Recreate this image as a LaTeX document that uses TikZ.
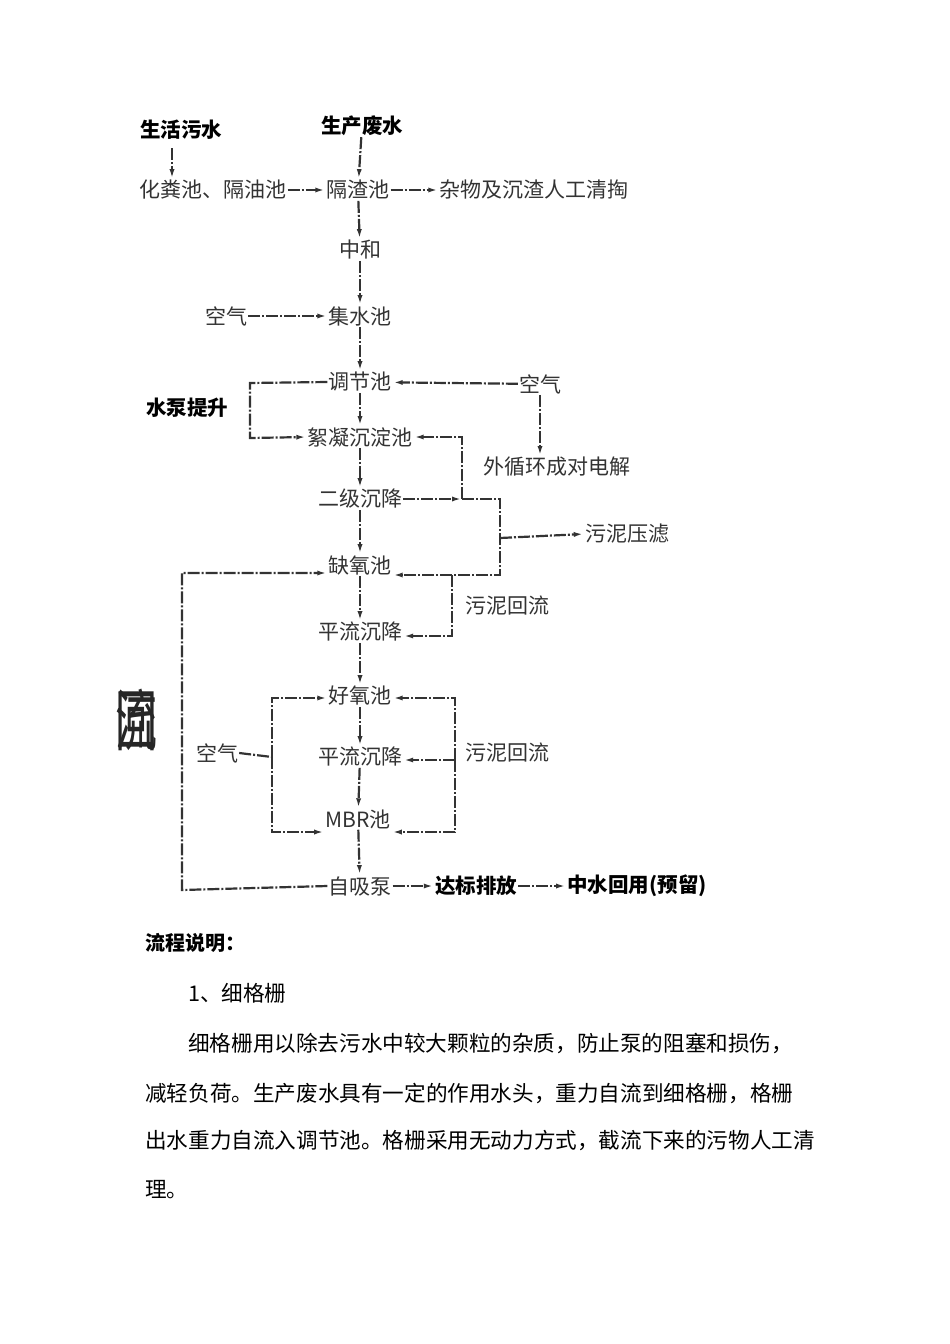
\documentclass[tikz,border=0pt]{standalone}
\usepackage{fontspec}
\setmainfont{Noto Sans CJK SC}
\usetikzlibrary{arrows.meta}
\begin{document}
\begin{tikzpicture}[x=1pt,y=-1pt,
  lbl/.style={font=\fontsize{21}{24}\selectfont,text=black!80,inner sep=1pt},
  blbl/.style={font=\fontsize{20.5}{24}\selectfont\bfseries,inner sep=1pt},
  ln/.style={line width=2.2pt,black!80,dash pattern=on 12pt off 2pt on 2pt off 2pt},
  ar/.style={ln,-{Latex[length=10pt,width=5pt]}},
  para/.style={font=\fontsize{21.6}{24}\selectfont,anchor=west,inner sep=0pt}]
\useasboundingbox (0,0) rectangle (950,1344);
\node[blbl] (shw) at (181,130) {生活污水};
\node[blbl] (scfs) at (362,126) {生产废水};
\node[lbl] (hfc) at (213,190) {化粪池、隔油池};
\node[lbl] (gzc) at (358,190) {隔渣池};
\node[lbl] (zw) at (534,190) {杂物及沉渣人工清掏};
\node[lbl] (zh) at (360,250) {中和};
\node[lbl] (kq1) at (226,316) {空气};
\node[lbl] (jsc) at (360,316) {集水池};
\node[lbl] (tjc) at (360,382) {调节池};
\node[lbl] (kq2) at (540,384) {空气};
\node[blbl] (sb) at (187,408) {水泵提升};
\node[lbl] (xn) at (360,437) {絮凝沉淀池};
\node[lbl] (wxh) at (557,467) {外循环成对电解};
\node[lbl] (ej) at (360,499) {二级沉降};
\node[lbl] (wnyl) at (627,534) {污泥压滤};
\node[lbl] (qy) at (360,565) {缺氧池};
\node[lbl] (hl1) at (507,606) {污泥回流};
\node[lbl] (pl1) at (360,632) {平流沉降};
\node[lbl] (hy) at (360,696) {好氧池};
\node[lbl] (kq3) at (217,753) {空气};
\node[lbl] (pl2) at (360,757) {平流沉降};
\node[lbl] (hl2) at (507,753) {污泥回流};
\node[lbl] (mbr) at (358,819) {MBR池};
\node[lbl] (zxb) at (360,886) {自吸泵};
\node[blbl] (db) at (476,886) {达标排放};
\node[blbl] (zs) at (637,886) {中水回用(预留)};
\node[font=\fontsize{42}{42}\selectfont,text=black!85,yscale=1.6,inner sep=0pt] (g) at (136,720) {回\kern-42pt流};
% arrows main chain
\draw[ar] (172,148) -- (hfc.north -| 172,0);
\draw[ar] (scfs) -- (gzc);
\draw[ar] (hfc) -- (gzc);
\draw[ar] (gzc) -- (zw);
\draw[ar] (gzc) -- (zh);
\draw[ar] (zh) -- (jsc);
\draw[ar] (kq1) -- (jsc);
\draw[ar] (jsc) -- (tjc);
\draw[ar] (kq2) -- (tjc);
\draw[ar] (kq2) -- (wxh.north -| kq2);
\draw[ar] (tjc) -- (xn);
\draw[ar] (xn) -- (ej);
\draw[ar] (ej) -- (qy);
\draw[ar] (qy) -- (pl1);
\draw[ar] (pl1) -- (hy);
\draw[ar] (hy) -- (pl2);
\draw[ar] (pl2) -- (mbr);
\draw[ar] (mbr) -- (zxb);
\draw[ar] (zxb) -- (db);
\draw[ar] (db) -- (zs);
% pump loop
\draw[ar] (tjc.west) -- (250,383) -- (250,438) -- (xn.west);
% secondary settling connections
\coordinate (j1) at (462,499);
\coordinate (j2) at (500,538);
\draw[ar] (ej.east) -- (j1);
\draw[ar] (j1) -- (462,437) -- (xn.east);
\draw[ar] (j1) -- (500,499) -- (500,575) -- (qy.east |- 0,575);
\draw[ar] (j2) -- (wnyl.west);
\draw[ar] (452,575) -- (452,636) -- (pl1.east |- 0,636);
% return loop
\draw[ar] (zxb.west) -- (182,890) -- (182,573) -- (qy.west |- 0,573);
% aeration
\draw[ln] (kq3.east) -- (272,757);
\draw[ar] (272,757) -- (272,698) -- (hy.west |- 0,698);
\draw[ar] (272,757) -- (272,832) -- (mbr.west |- 0,832);
% sludge return bracket
\draw[ar] (455,760) -- (455,698) -- (hy.east |- 0,698);
\draw[ar] (455,760) -- (455,832) -- (mbr.east |- 0,832);
\draw[ar] (455,760) -- (pl2.east |- 0,760);
% text
\node[para,font=\fontsize{20}{22}\selectfont\bfseries] (t0) at (145,943) {流程说明：};
\node[para] (t1) at (188,993) {1、细格栅};
\node[para] (t2) at (188,1043) {细格栅用以除去污水中较大颗粒的杂质，防止泵的阻塞和损伤，};
\node[para] (t3) at (145,1093) {减轻负荷。生产废水具有一定的作用水头，重力自流到细格栅，格栅};
\node[para] (t4) at (145,1141) {出水重力自流入调节池。格栅采用无动力方式，截流下来的污物人工清};
\node[para] (t5) at (145,1190) {理。};
\end{tikzpicture}
\end{document}
